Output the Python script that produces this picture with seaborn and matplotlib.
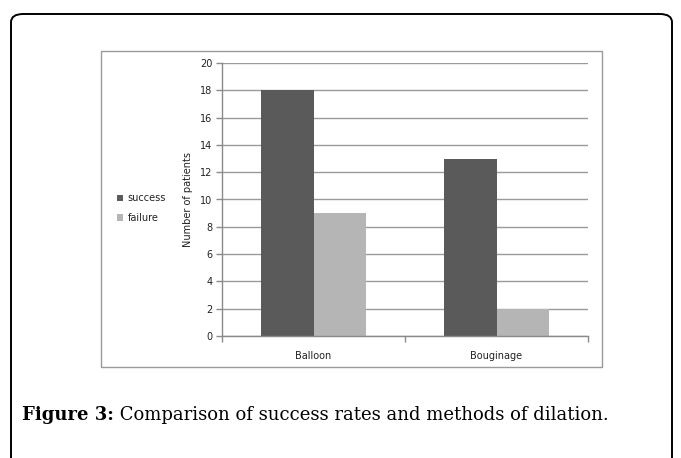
import matplotlib
matplotlib.use('Agg')
import matplotlib.pyplot as plt
import pandas as pd
import seaborn as sns
from matplotlib.patches import FancyBboxPatch, Rectangle

# Data
methods = ['Balloon', 'Bouginage']
outcomes = ['success', 'failure']
success = [18, 13]
failure = [9, 2]
colors = ['#5a5a5a', '#b5b5b5']
caption_bold = 'Figure 3:'
caption_text = ' Comparison of success rates and methods of dilation.'

df = pd.DataFrame({
    'method': methods * 2,
    'outcome': ['success'] * len(methods) + ['failure'] * len(methods),
    'value': success + failure,
})

sns.set_style('white')
plt.rcParams['font.family'] = ['DejaVu Sans']

W, H = 681, 458
fig = plt.figure(figsize=(W / 100, H / 100), dpi=100)

# outer rounded frame (bottom edge runs off the page)
frame = FancyBboxPatch((11 / W, -0.1), (672 - 11) / W, (H - 14) / H + 0.1,
                       boxstyle='round,pad=0,rounding_size=0.018',
                       transform=fig.transFigure, fill=False,
                       edgecolor='black', linewidth=1.4)
fig.patches.append(frame)

# inner chart box
box = Rectangle((101 / W, (H - 367) / H), (602 - 101) / W, (367 - 51) / H,
                transform=fig.transFigure, fill=False,
                edgecolor='#9a9a9a', linewidth=1.0)
fig.patches.append(box)

ax = fig.add_axes([222 / W, (H - 336) / H, (588 - 222) / W, (336 - 63) / H])
sns.barplot(data=df, x='method', y='value', hue='outcome', hue_order=outcomes,
            order=methods, palette=colors, width=0.575, gap=0, ax=ax,
            saturation=1, linewidth=0)

ax.set_ylim(0, 20)
ax.set_xlim(-0.5, 1.5)
ax.set_yticks(range(0, 21, 2))
ax.yaxis.grid(True, color='#9a9a9a', linewidth=1.0)
ax.set_axisbelow(True)
for s in ['top', 'right']:
    ax.spines[s].set_visible(False)
for s in ['left', 'bottom']:
    ax.spines[s].set_color('#8a8a8a')
    ax.spines[s].set_linewidth(1.0)

ax.tick_params(axis='y', which='major', length=4, width=1, color='#8a8a8a',
               labelsize=7, pad=3, left=True, labelcolor='#222222')
ax.tick_params(axis='x', which='major', length=0, labelsize=7, pad=11,
               labelcolor='#222222')
ax.set_xticks([-0.5, 0.5, 1.5], minor=True)
ax.tick_params(axis='x', which='minor', length=4, width=1, color='#8a8a8a',
               bottom=True)
ax.set_xlabel('')
ax.set_ylabel('Number of patients', fontsize=7, labelpad=5, color='#222222')

handles, labels = ax.get_legend_handles_labels()
ax.legend(handles, labels, loc='center left',
          bbox_to_anchor=(108 / W, (H - 208) / H), bbox_transform=fig.transFigure,
          frameon=False, fontsize=7, handlelength=0.6, handleheight=0.6,
          handletextpad=0.5, labelspacing=1.0, labelcolor='#222222')

# caption
t = fig.text(22 / W, (H - 420) / H, caption_bold, fontsize=13,
             family='DejaVu Serif', fontweight='bold', va='baseline',
             color='black')
fig.canvas.draw()
bb = t.get_window_extent()
fig.text(bb.x1 / W, (H - 420) / H, caption_text, fontsize=13,
         family='DejaVu Serif', va='baseline', color='black')

fig.savefig('out.png', dpi=100)
